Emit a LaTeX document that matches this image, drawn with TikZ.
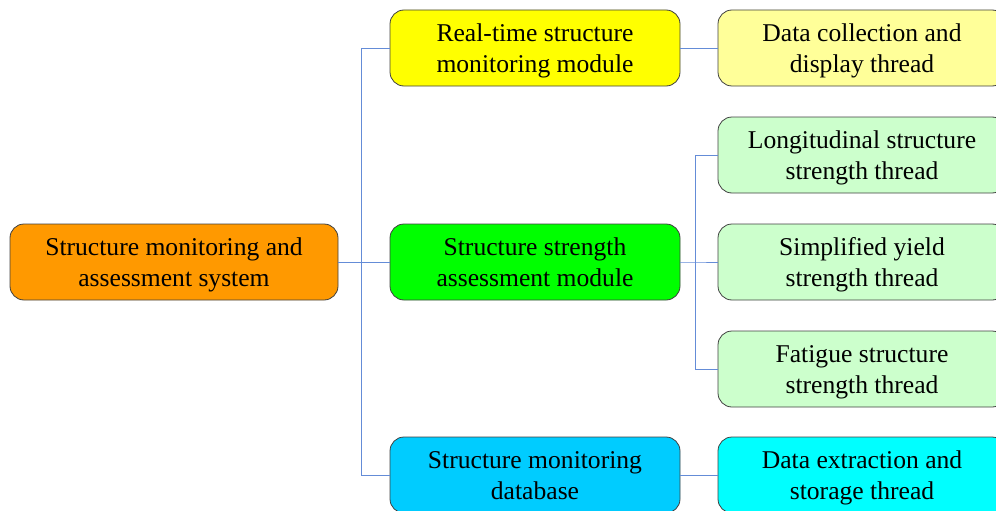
\documentclass[tikz,border=0pt]{standalone}
\usepackage{fontspec}
\newfontfamily\lserif{Liberation Serif}
\begin{document}
\begin{tikzpicture}[x=1pt,y=-1pt,
  box/.style={draw=black!75, line width=0.8pt, rounded corners=14pt, align=center,
    inner sep=0pt, minimum height=76pt, text height=52pt, text depth=3pt,
    font=\lserif\fontsize{25.6}{31}\selectfont},
  rootbox/.style={box, minimum width=328pt},
  midbox/.style={box, minimum width=290pt},
  rbox/.style={box, minimum width=288pt}]
\definecolor{linkc}{RGB}{100,140,215}
\useasboundingbox (0,0) rectangle (996,511);
\clip (0,0) rectangle (996,511);
\node[rootbox, fill={rgb,255:red,255;green,153;blue,0}] (root) at (174,262) {Structure monitoring and\\assessment system};
\node[midbox, fill={rgb,255:red,255;green,255;blue,0}] (m1) at (535,48) {Real-time structure\\monitoring module};
\node[midbox, fill={rgb,255:red,0;green,255;blue,0}] (m2) at (535,262) {Structure strength\\assessment module};
\node[midbox, fill={rgb,255:red,0;green,204;blue,255}] (m3) at (535,475) {Structure monitoring\\database};
\node[rbox, fill={rgb,255:red,255;green,255;blue,153}] (r1) at (862,48) {Data collection and\\display thread};
\node[rbox, fill={rgb,255:red,204;green,255;blue,204}] (r2) at (862,155) {Longitudinal structure\\strength thread};
\node[rbox, fill={rgb,255:red,204;green,255;blue,204}] (r3) at (862,262) {Simplified yield\\strength thread};
\node[rbox, fill={rgb,255:red,204;green,255;blue,204}] (r4) at (862,369) {Fatigue structure\\strength thread};
\node[rbox, fill={rgb,255:red,0;green,255;blue,255}] (r5) at (862,475) {Data extraction and\\storage thread};
\coordinate (b1) at (361,262);
\coordinate (b2) at (695,262);
\begin{scope}[draw=linkc, line width=0.9pt]
\draw (root.east) -- (b1);
\draw (b1) |- (m1.west);
\draw (b1) -- (m2.west);
\draw (b1) |- (m3.west);
\draw (m1.east) -- (r1.west);
\draw (m2.east) -- (b2) -- (r3.west);
\draw (b2) |- (r2.west);
\draw (b2) |- (r4.west);
\draw (m3.east) -- (r5.west);
\end{scope}
\end{tikzpicture}
\end{document}
